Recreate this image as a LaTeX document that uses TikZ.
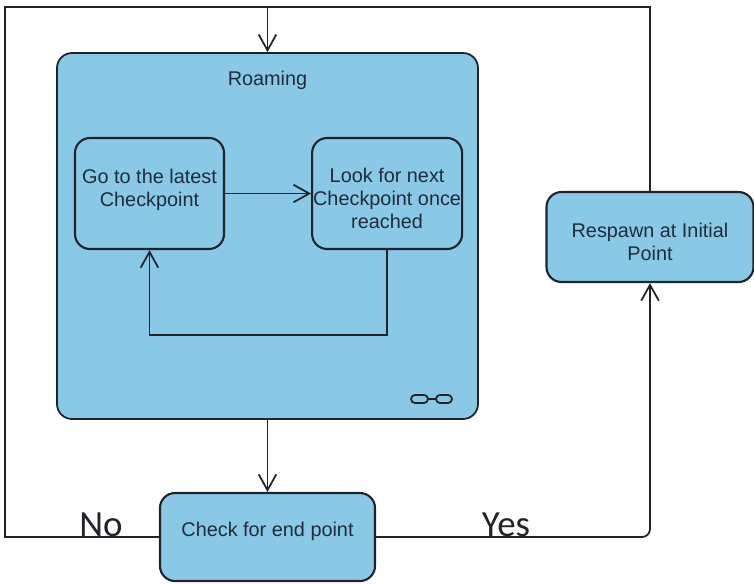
\documentclass[tikz,border=0pt]{standalone}
\usepackage{fontspec}
\setmainfont{Liberation Sans}
\newfontfamily\labelfont{Carlito}
\usetikzlibrary{calc, positioning, arrows.meta}
\def\px{0.02cm}
\definecolor{stateblue}{RGB}{137,201,230}
\definecolor{edgegray}{RGB}{32,36,40}
\definecolor{textgray}{RGB}{32,44,58}
\tikzstyle{state}=[draw=edgegray,line width=1.2pt,fill=stateblue,rounded corners=15*\px,align=center,text=textgray,font=\fontsize{11.3}{13.1}\selectfont,inner sep=0pt]
\tikzstyle{flow}=[draw=edgegray,line width=1pt,-{Straight Barb[length=9pt,width=10pt]}]
\tikzstyle{wire}=[draw=edgegray,line width=1pt]
\tikzstyle{answer}=[text=edgegray,font=\labelfont\fontsize{21}{24}\selectfont,anchor=base,inner sep=0pt]

\begin{document}
\begin{tikzpicture}[x=\px,y=-\px]
		\useasboundingbox (0,0) rectangle (754,583);
		
		\node[state, line width=1pt, minimum width=421*\px, minimum height=366*\px] (roam) at (267.5,236) {};
		\node[text=textgray, font=\fontsize{11.3}{13.1}\selectfont, below=13*\px of roam.north] (roamlbl) {Roaming};
		\node[state, minimum width=149*\px, minimum height=111*\px] (go) at (149.5,193.5) {Go to the latest\\Checkpoint\\[-10pt]\strut};
		\node[state, minimum width=150*\px, minimum height=111*\px, right=86*\px of go] (look) {\strut\\[-8pt]Look for next\\Checkpoint once\\reached};
		\node[state, minimum width=215*\px, minimum height=88*\px] (check) at (267.5,537) {Check for end point\\[-8.5pt]\strut};
		\node[state, minimum width=207*\px, minimum height=90*\px] (resp) at (650,237) {\strut\\[-9pt]Respawn at Initial\\Point};
		\node[answer] (no) at (101,536) {No};
		\node[answer] (yes) at (506,536) {Yes};
		\coordinate (tl) at (5,7);
		
		% link icon of the composite state
		\draw[edgegray, line width=1pt, rounded corners=4*\px] (411,395) rectangle (428,403) (436,395) rectangle (452,403);
		\draw[edgegray, line width=1pt] (428,399) -- (436,399);
		
		\path 
		(go) edge[flow] (look);
		\draw[flow] (look.south) -- ++(0,85) -| (go.south);
		\draw[flow] (roam.south) -- (check.north);
		\draw[wire] (check.west) -| (tl) -| (resp.north);
		\draw[flow] (roam.north |- tl) -- (roam.north);
		\draw[flow, rounded corners=8*\px] (check.east) -| (resp.south);
	\end{tikzpicture}
\end{document}
